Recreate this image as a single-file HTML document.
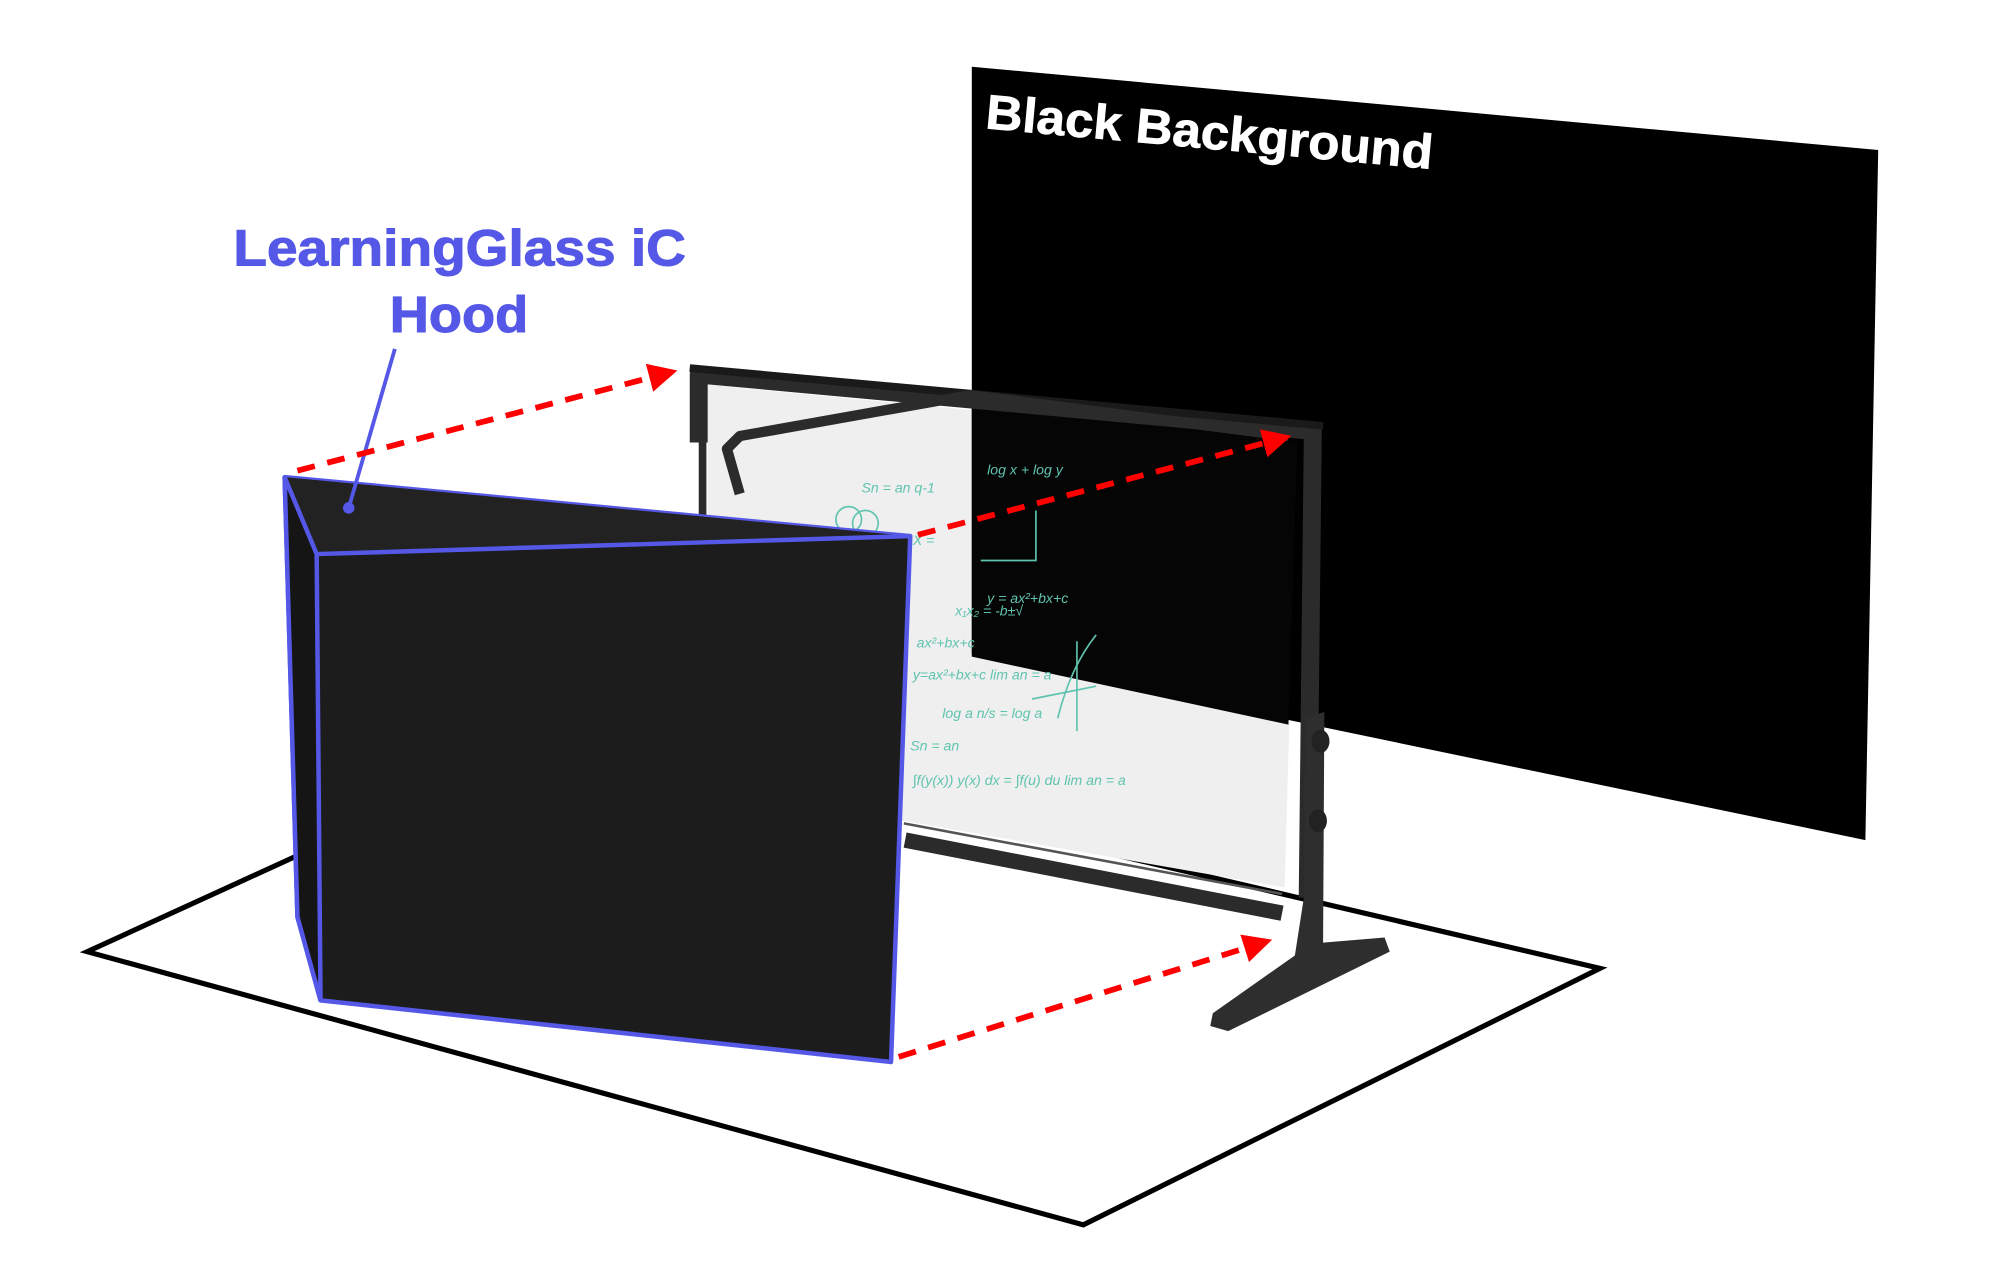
<!DOCTYPE html>
<html><head><meta charset="utf-8"><style>
html,body{margin:0;padding:0;background:#fff;}
svg{display:block;}
</style></head><body>
<svg width="2000" height="1280" viewBox="0 0 1560 998" preserveAspectRatio="none" xmlns="http://www.w3.org/2000/svg">
<defs>
<marker id="ah" viewBox="0 0 10 10" refX="8" refY="5" markerWidth="5" markerHeight="5" orient="auto">
<path d="M0,0 L10,5 L0,10 z" fill="#ff0000"/></marker>
</defs>
<rect width="1560" height="998" fill="#fff"/>
<!-- floor -->
<polygon points="68,742 449,568 1248,755 845,955" fill="none" stroke="#000" stroke-width="4"/>
<!-- glass -->
<polygon points="552,300 1012,344 1002,692 705,640 552,600" fill="#efefef"/>
<!-- black background -->
<polygon points="758,52 1465,117 1455,655 758,510" fill="#000"/>
<polygon points="758,310 1012,344 1005,565 758,512" fill="#050505"/>
<!-- math scribbles -->
<g fill="#5fc4ae" font-family="Liberation Sans, sans-serif" font-size="11" font-style="italic">
<text x="672" y="384">Sn = an  q-1</text>
<text x="712" y="425">X̄ =</text>
<text x="770" y="370">log x + log y</text>
<text x="770" y="470">y = ax²+bx+c</text>
<text x="745" y="480">x₁x₂ = -b±√</text>
<text x="715" y="505">ax²+bx+c</text>
<text x="712" y="530">y=ax²+bx+c  lim an = a</text>
<text x="735" y="560">log a  n/s = log a</text>
<text x="710" y="585">Sn = an</text>
<text x="712" y="612">∫f(y(x)) y(x) dx = ∫f(u) du   lim an = a</text>
</g>
<g stroke="#5fc4ae" stroke-width="1.3" fill="none">
<path d="M765,437 L808,437 L808,398"/><path d="M805,545 L855,535"/><path d="M840,500 L840,570"/><path d="M825,560 Q835,520 855,495"/>
<circle cx="662" cy="405" r="10"/><circle cx="675" cy="408" r="10"/>
</g>
<!-- frame -->
<g fill="none" stroke="#2b2b2b" stroke-linejoin="round">
<polyline points="545,345 545,292 1024,336 1020,700" stroke-width="14"/>
<polyline points="538,287 1032,332" stroke="#1a1a1a" stroke-width="6"/>
<polyline points="706,655 1000,712" stroke-width="12"/>
<polyline points="705,642 1000,697" stroke="#555" stroke-width="2"/>
<polyline points="577,385 567,350 577,340 757,308 1005,340" stroke-width="8"/>
<polyline points="548,300 548,600" stroke-width="6"/>
</g>
<!-- stand -->
<polygon points="1018,560 1033,555 1032,735 1080,731 1084,742 958,804 944,800 946,790 1000,752 1010,745 1017,700" fill="#2e2e2e"/>
<ellipse cx="1030" cy="578" rx="7" ry="9" fill="#222"/>
<ellipse cx="1028" cy="640" rx="7" ry="9" fill="#222"/>
<!-- hood -->
<polygon points="222,372 710,418 695,828 250,780 232,715" fill="#1c1c1c" stroke="#5558e6" stroke-width="3.5" stroke-linejoin="round"/>
<polygon points="222,372 710,418 247,432" fill="#222"/>
<polyline points="247,432 710,418" fill="none" stroke="#5558e6" stroke-width="3.5"/>
<polygon points="222,372 247,432 250,780 232,715" fill="#151515"/>
<polyline points="222,372 247,432 250,780 232,715 222,372" fill="none" stroke="#5558e6" stroke-width="3.5"/>
<!-- label pointer -->
<line x1="308" y1="272" x2="272" y2="396" stroke="#5558e6" stroke-width="3"/>
<circle cx="272" cy="396" r="4.5" fill="#5558e6"/>
<!-- red arrows -->
<g stroke="#ff0000" stroke-width="4.5" stroke-dasharray="14,10" fill="none" marker-end="url(#ah)">
<line x1="232" y1="367" x2="524" y2="290"/>
<line x1="716" y1="417" x2="1003" y2="341"/>
<line x1="701" y1="824" x2="988" y2="734"/>
</g>
<!-- labels -->
<g font-family="Liberation Sans, sans-serif" font-weight="bold" fill="#5558e6" font-size="40" stroke="#5558e6" stroke-width="0.8">
<text x="182" y="207" textLength="353" lengthAdjust="spacingAndGlyphs">LearningGlass iC</text>
<text x="304" y="259" textLength="108" lengthAdjust="spacingAndGlyphs">Hood</text>
</g>
<text x="768" y="100" transform="rotate(5.2 768 100)" font-family="Liberation Sans, sans-serif" font-weight="bold" font-size="38" fill="#fff" stroke="#fff" stroke-width="0.6" textLength="350" lengthAdjust="spacingAndGlyphs">Black Background</text>
</svg>
</body></html>
